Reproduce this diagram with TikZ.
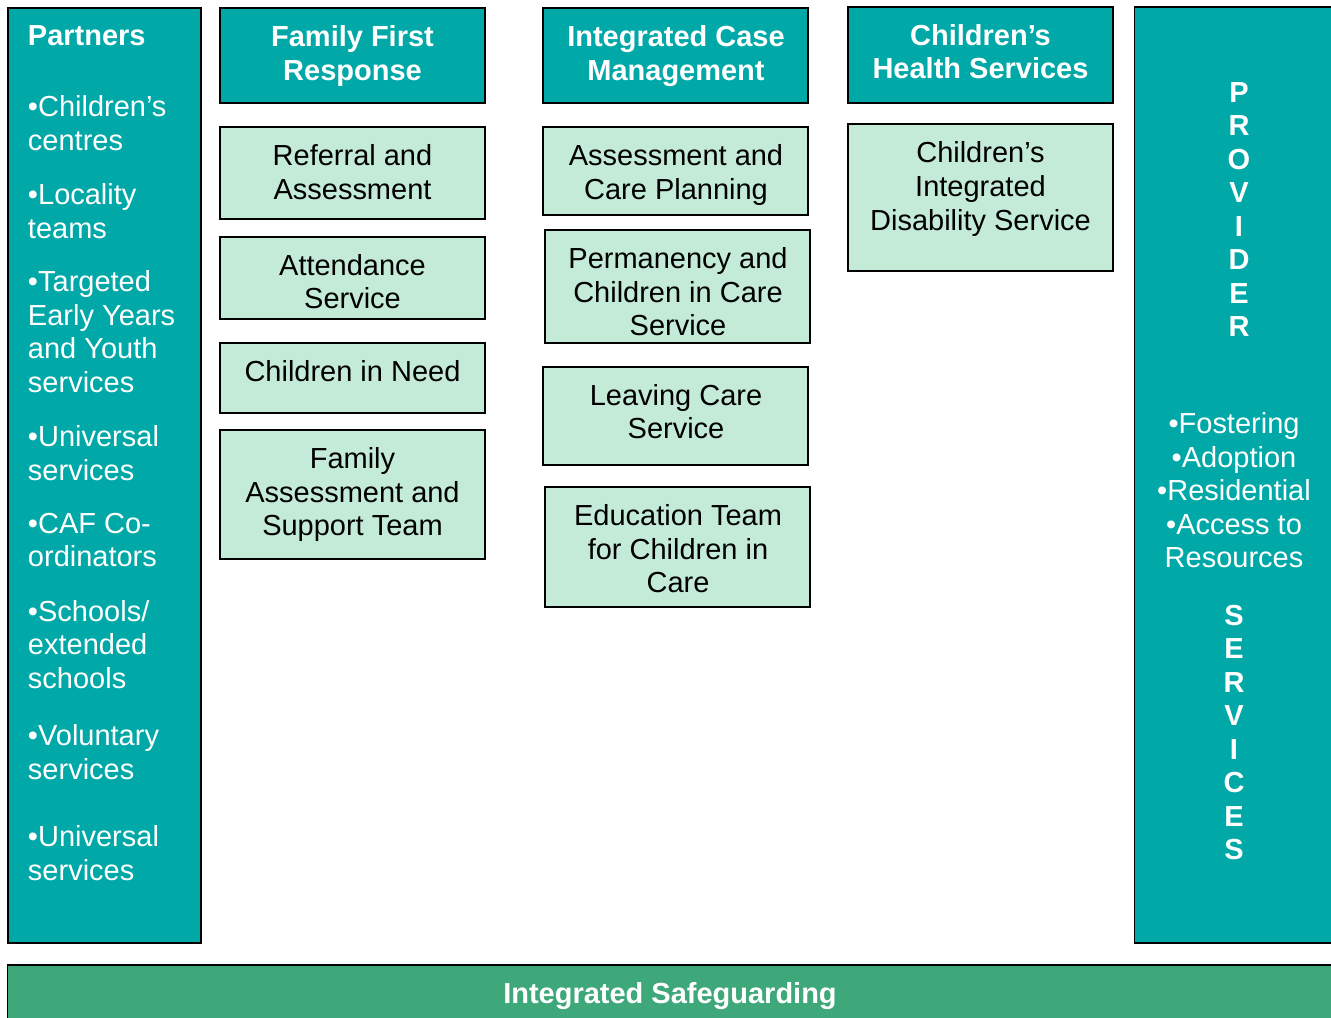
\documentclass[tikz,border=0pt]{standalone}
\usepackage{fontspec}
\setmainfont{Liberation Sans}
\usepackage{tikz}
\usetikzlibrary{shapes}
\pgfdeclarelayer{edgelayer}
\pgfdeclarelayer{nodelayer}
\pgfsetlayers{edgelayer,nodelayer,main}
\definecolor{tealfill}{RGB}{0,168,168}
\definecolor{mintfill}{RGB}{196,235,216}
\definecolor{safefill}{RGB}{63,168,122}
\tikzstyle{none}=[inner sep=0pt, outer sep=0pt]
\tikzstyle{darkbox}=[style=none, rectangle, draw=black, line width=0.8pt, fill=tealfill]
\tikzstyle{lightbox}=[style=none, rectangle, draw=black, line width=0.8pt, fill=mintfill, minimum width=5.3cm]
\tikzstyle{safebox}=[style=none, rectangle, draw=black, line width=0.8pt, fill=safefill]
\tikzstyle{whitetext}=[style=none, text=white, font=\fontsize{16.5}{19.1}\selectfont]
\tikzstyle{boldtext}=[style=none, text=white, align=center, font=\fontsize{16.5}{19.1}\selectfont\bfseries]
\tikzstyle{blacktext}=[style=none, text=black, align=center, font=\fontsize{16.5}{19.1}\selectfont]

\begin{document}
\begin{tikzpicture}[x=0.02cm, y=-0.02cm]
	\useasboundingbox (0, 0) rectangle (1331, 1017);
	\begin{pgfonlayer}{nodelayer}
		\node [style=darkbox, minimum width=3.86cm, minimum height=18.7cm] (0) at (104.5, 475.5) {};
		\node [style=darkbox, minimum width=5.3cm, minimum height=1.9cm] (1) at (352.5, 55.5) {};
		\node [style=lightbox, minimum height=1.84cm] (2) at (352.5, 173) {};
		\node [style=lightbox, minimum height=1.64cm] (3) at (352.5, 278) {};
		\node [style=lightbox, minimum height=1.4cm] (4) at (352.5, 378) {};
		\node [style=lightbox, minimum height=2.58cm] (5) at (352.5, 494.5) {};
		\node [style=darkbox, minimum width=5.3cm, minimum height=1.9cm] (6) at (675.5, 55.5) {};
		\node [style=lightbox, minimum height=1.76cm] (7) at (675.5, 171) {};
		\node [style=lightbox, minimum height=2.26cm] (8) at (677.5, 286.5) {};
		\node [style=lightbox, minimum height=1.96cm] (9) at (675.5, 416) {};
		\node [style=lightbox, minimum height=2.4cm] (10) at (677.5, 547) {};
		\node [style=darkbox, minimum width=5.3cm, minimum height=1.92cm] (11) at (980.5, 55) {};
		\node [style=lightbox, minimum height=2.94cm] (12) at (980.5, 197.5) {};
		\node [style=darkbox, minimum width=4.3cm, minimum height=18.72cm] (13) at (1242, 475) {};
		\node [style=safebox, minimum width=26.9cm, minimum height=1.3cm] (14) at (680, 997.5) {};
		% partners list
		\node [style=boldtext, anchor=west] (20) at (28, 36) {Partners};
		\node [style=whitetext, anchor=west, align=left] (21) at (28, 123) {•Children’s\\centres};
		\node [style=whitetext, anchor=west, align=left] (22) at (28, 211) {•Locality\\teams};
		\node [style=whitetext, anchor=west, align=left] (23) at (28, 331.5) {•Targeted\\Early Years\\and Youth\\services};
		\node [style=whitetext, anchor=west, align=left] (24) at (28, 453) {•Universal\\services};
		\node [style=whitetext, anchor=west, align=left] (25) at (28, 540) {•CAF Co-\\ordinators};
		\node [style=whitetext, anchor=west, align=left] (26) at (28, 644.5) {•Schools/\\extended\\schools};
		\node [style=whitetext, anchor=west, align=left] (27) at (28, 752) {•Voluntary\\services};
		\node [style=whitetext, anchor=west, align=left] (28) at (28, 853) {•Universal\\services};
		% column texts
		\node [style=boldtext] (30) at (352.5, 56) {Family First\\Response};
		\node [style=blacktext] (31) at (352.5, 172) {Referral and\\Assessment};
		\node [style=blacktext] (32) at (352.5, 281.5) {Attendance\\Service};
		\node [style=blacktext] (33) at (352.5, 371) {Children in Need};
		\node [style=blacktext] (34) at (352.5, 494.5) {Family\\Assessment and\\Support Team};
		\node [style=boldtext] (35) at (676, 56) {Integrated Case\\Management};
		\node [style=blacktext] (36) at (676, 175) {Assessment and\\Care Planning};
		\node [style=blacktext] (37) at (678, 292) {Permanency and\\Children in Care\\Service};
		\node [style=blacktext] (38) at (676, 411.5) {Leaving Care\\Service};
		\node [style=blacktext] (39) at (678, 549) {Education Team\\for Children in\\Care};
		\node [style=boldtext] (40) at (980.5, 51.5) {Children’s\\Health Services};
		\node [style=blacktext] (41) at (980.5, 189) {Children’s\\Integrated\\Disability Service};
		% provider services
		\node [style=boldtext] (50) at (1239, 209.5) {P\\R\\O\\V\\I\\D\\E\\R};
		\node [style=whitetext, align=center] (51) at (1234, 490.5) {•Fostering\\•Adoption\\•Residential\\•Access to\\Resources};
		\node [style=boldtext] (52) at (1234, 732.5) {S\\E\\R\\V\\I\\C\\E\\S};
		\node [style=boldtext] (53) at (670, 996) {Integrated Safeguarding};
	\end{pgfonlayer}
\end{tikzpicture}
\end{document}
